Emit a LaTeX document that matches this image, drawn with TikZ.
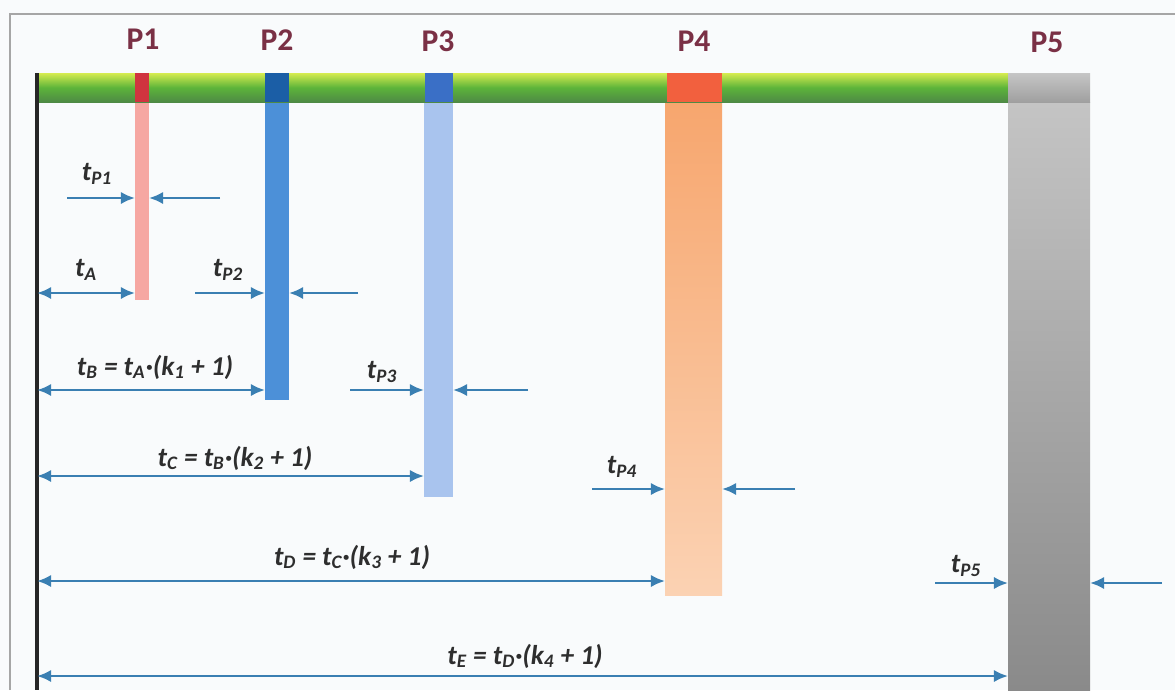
\documentclass[tikz,border=0pt]{standalone}
\usepackage{fontspec}
\setmainfont{Carlito}
\usetikzlibrary{arrows.meta}
\definecolor{arrowc}{HTML}{3A7FB2}
\definecolor{plab}{HTML}{7A3045}
\definecolor{txt}{HTML}{2E2E2E}
\definecolor{bgc}{HTML}{F9FBFC}
\definecolor{gtop}{HTML}{D6EC50}
\definecolor{gmid}{HTML}{5DB43A}
\definecolor{gbot}{HTML}{4E8A45}
\definecolor{s1c}{HTML}{F6A7A2}
\definecolor{s2c}{HTML}{4C90D8}
\definecolor{s3c}{HTML}{A9C4EE}
\definecolor{s4top}{HTML}{F7A66E}
\definecolor{s4bot}{HTML}{FBD2B3}
\definecolor{s5top}{HTML}{C4C4C4}
\definecolor{s5bot}{HTML}{8A8A8A}
\definecolor{m1c}{HTML}{D0343F}
\definecolor{m2c}{HTML}{1B5EA6}
\definecolor{m3c}{HTML}{3A6FC6}
\definecolor{m4c}{HTML}{F2603E}
\newcommand{\sbs}[1]{\textsubscript{#1}}
\tikzset{
  arr/.style={draw=arrowc, line width=1.4pt, -{Latex[length=8pt,width=7pt]}},
  darr/.style={draw=arrowc, line width=1.4pt, {Latex[length=8pt,width=7pt]}-{Latex[length=8pt,width=7pt]}},
  plabel/.style={font=\fontsize{18}{20}\selectfont\bfseries, text=plab},
  tlabel/.style={font=\fontsize{15.5}{18}\selectfont\bfseries\itshape, text=txt, inner sep=0pt},
  stripe/.style={draw=none, inner sep=0pt, outer sep=0pt, anchor=north west},
}
\begin{document}
\begin{tikzpicture}[x=0.02cm,y=-0.02cm]
\useasboundingbox (0,0) rectangle (1175,690);
\fill[bgc] (0,0) rectangle (1175,690);
% frame
\draw[gray!70, line width=1pt] (10,690) -- (10,14) -- (1175,14);
% stripes
\node[stripe, fill=s1c, minimum width=14*0.02cm, minimum height=198*0.02cm] (s1) at (135,102) {};
\node[stripe, fill=s2c, minimum width=24*0.02cm, minimum height=298*0.02cm] (s2) at (265,102) {};
\node[stripe, fill=s3c, minimum width=29*0.02cm, minimum height=395*0.02cm] (s3) at (424,102) {};
\node[stripe, top color=s4top, bottom color=s4bot, minimum width=57*0.02cm, minimum height=493*0.02cm] (s4) at (665,102) {};
\node[stripe, top color=s5top, bottom color=s5bot, minimum width=82*0.02cm, minimum height=588*0.02cm] (s5) at (1008,102) {};
% bar
\shade[top color=gtop, bottom color=gbot, middle color=gmid] (36,73) rectangle (1008,102);
\shade[top color=gray!45, bottom color=gray!75, middle color=gray!60] (1008,73) rectangle (1090,102);
\fill[m1c] (135,73) rectangle (149,102);
\fill[m2c] (265,73) rectangle (289,102);
\fill[m3c] (425,73) rectangle (453,102);
\fill[m4c] (667,73) rectangle (722,102);
% left axis
\draw[black!85, line width=2pt] (37,73) -- (37,690);
% P labels
\node[plabel] (P1) at (143,39) {P1};
\node[plabel] (P2) at (277,40) {P2};
\node[plabel] (P3) at (438,41) {P3};
\node[plabel] (P4) at (694,41) {P4};
\node[plabel] (P5) at (1047,42) {P5};
% endpoints
\coordinate (p1a) at (67,198);  \coordinate (p1b) at (220,198);
\coordinate (yA) at (37,293);
\coordinate (p2a) at (195,293); \coordinate (p2b) at (358,293);
\coordinate (yB) at (37,390);
\coordinate (p3a) at (350,390); \coordinate (p3b) at (528,390);
\coordinate (yC) at (37,476);
\coordinate (p4a) at (592,489); \coordinate (p4b) at (795,489);
\coordinate (yD) at (37,581);
\coordinate (p5a) at (935,583); \coordinate (p5b) at (1162,583);
\coordinate (yE) at (37,676);
% arrows
\draw[arr] (p1a) -- (s1.west |- p1a);
\draw[arr] (p1b) -- (s1.east |- p1b);
\draw[darr] (yA) -- (s1.west |- yA);
\draw[arr] (p2a) -- (s2.west |- p2a);
\draw[arr] (p2b) -- (s2.east |- p2b);
\draw[darr] (yB) -- (s2.west |- yB);
\draw[arr] (p3a) -- (s3.west |- p3a);
\draw[arr] (p3b) -- (s3.east |- p3b);
\draw[darr] (yC) -- (s3.west |- yC);
\draw[arr] (p4a) -- (s4.west |- p4a);
\draw[arr] (p4b) -- (s4.east |- p4b);
\draw[darr] (yD) -- (s4.west |- yD);
\draw[arr] (p5a) -- (s5.west |- p5a);
\draw[arr] (p5b) -- (s5.east |- p5b);
\draw[darr] (yE) -- (s5.west |- yE);
% labels
\node[tlabel] (l1) at (97,174) {t\sbs{P1}};
\node[tlabel] (lA) at (86,270) {t\sbs{A}};
\node[tlabel] (l2) at (228,270) {t\sbs{P2}};
\node[tlabel] (lB) at (155,367) {t\sbs{B} = t\sbs{A}·(k\sbs{1} + 1)};
\node[tlabel] (l3) at (382,372) {t\sbs{P3}};
\node[tlabel] (lC) at (235,458) {t\sbs{C} = t\sbs{B}·(k\sbs{2} + 1)};
\node[tlabel] (l4) at (622,467) {t\sbs{P4}};
\node[tlabel] (lD) at (352,557) {t\sbs{D} = t\sbs{C}·(k\sbs{3} + 1)};
\node[tlabel] (l5) at (966,566) {t\sbs{P5}};
\node[tlabel] (lE) at (525,656) {t\sbs{E} = t\sbs{D}·(k\sbs{4} + 1)};
\end{tikzpicture}
\end{document}
